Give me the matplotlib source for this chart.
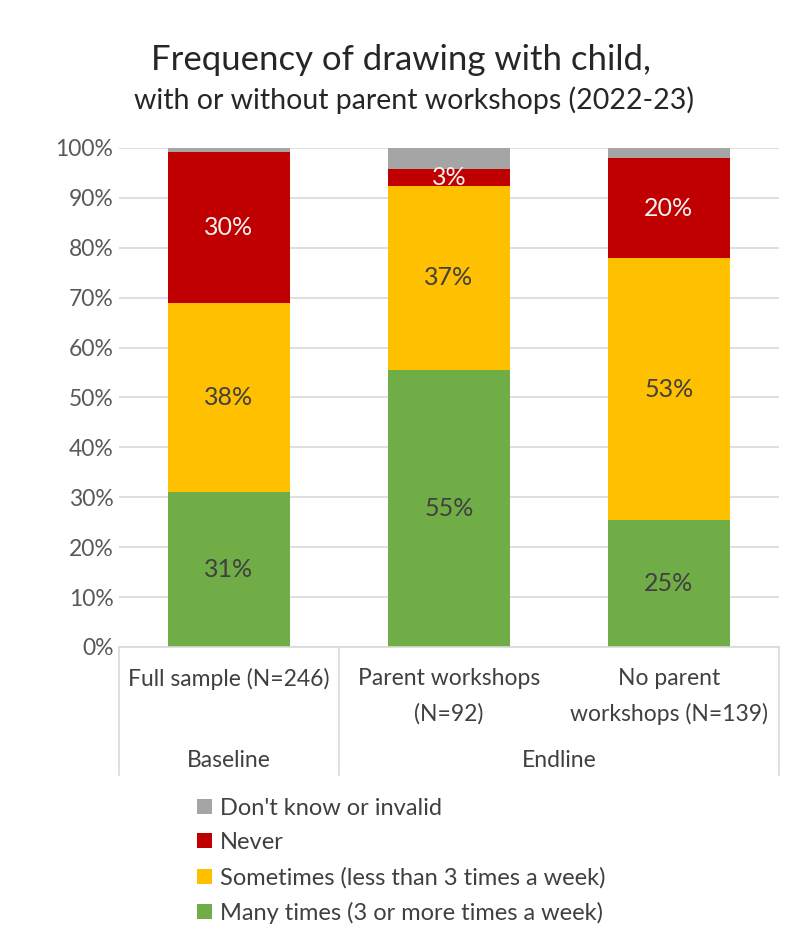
import numpy as np
import matplotlib.pyplot as plt

plt.rcParams['font.family'] = ['Lato', 'DejaVu Sans']

# data (shares of respondents, %)
categories = ['Full sample (N=246)', 'Parent workshops\n(N=92)', 'No parent\nworkshops (N=139)']
groups = ['Baseline', 'Endline']
group_spans = [(0, 1), (1, 3)]
series = ['Many times (3 or more times a week)', 'Sometimes (less than 3 times a week)',
          'Never', "Don't know or invalid"]
many = [31.1, 55.5, 25.4]
sometimes = [37.8, 36.9, 52.5]
never = [30.3, 3.4, 20.0]
dont_know = [0.8, 4.2, 2.1]
labels_many = ['31%', '55%', '25%']
labels_sometimes = ['38%', '37%', '53%']
labels_never = ['30%', '3%', '20%']

colors = ['#70ad47', '#ffc000', '#c00000', '#a5a5a5']
label_colors = ['#404040', '#404040', '#f2f2f2', None]

fig = plt.figure(figsize=(7.93, 9.36), dpi=100)
ax = fig.add_axes([0.150, 0.3088, 0.832, 0.5332])

x = np.arange(len(categories))
values = [many, sometimes, never, dont_know]
texts = [labels_many, labels_sometimes, labels_never, None]
bottom = np.zeros(len(categories))
for vals, col, name, lab, lc in zip(values, colors, series, texts, label_colors):
    v = np.array(vals) / 100
    ax.bar(x, v, 0.555, bottom=bottom, color=col, label=name, zorder=2)
    if lab is not None:
        for xi, b, h, t in zip(x, bottom, v, lab):
            ax.text(xi, b + h / 2, t, ha='center', va='center', fontsize=18, color=lc, zorder=3)
    bottom += v

ax.set_xlim(-0.5, 2.5)
ax.set_ylim(0, 1)
ax.set_yticks(np.arange(0, 1.01, 0.1))
ax.set_yticklabels([f'{int(round(t * 100))}%' for t in np.arange(0, 1.01, 0.1)],
                   fontsize=16.5, color='#595959')
ax.set_xticks([])
ax.tick_params(axis='y', length=0, pad=4)
ax.grid(axis='y', color='#d9d9d9', linewidth=1.2, zorder=0)
for s in ['top', 'right', 'left']:
    ax.spines[s].set_visible(False)
ax.spines['bottom'].set_color('#d9d9d9')
ax.spines['bottom'].set_linewidth(1.2)

# category labels and separators
trans = ax.get_xaxis_transform()
for xi, c in zip(x, categories):
    ax.text(xi, -0.042, c, transform=trans, ha='center', va='top', fontsize=16.5,
            color='#404040', linespacing=1.8)
for (a, b), g in zip(group_spans, groups):
    ax.text((a + b) / 2 - 0.5, -0.227, g, transform=trans, ha='center', va='center',
            fontsize=16.5, color='#404040')
for xs in [-0.5, 0.5, 2.5]:
    ax.plot([xs, xs], [0, -0.257], transform=trans, color='#d9d9d9', lw=1.2, clip_on=False)

fig.text(0.506, 0.936, 'Frequency of drawing with child,', ha='center', va='center',
         fontsize=25, color='#262626')
fig.text(0.522, 0.893, 'with or without parent workshops (2022-23)', ha='center', va='center',
         fontsize=20.5, color='#262626')

handles, labs = ax.get_legend_handles_labels()
fig.legend(handles[::-1], labs[::-1], loc='upper left', bbox_to_anchor=(0.237, 0.158),
           frameon=False, fontsize=17, handlelength=0.6, handleheight=0.6,
           handletextpad=0.35, labelspacing=0.58, labelcolor='#404040', borderaxespad=0)

fig.savefig('out.png', dpi=100)
